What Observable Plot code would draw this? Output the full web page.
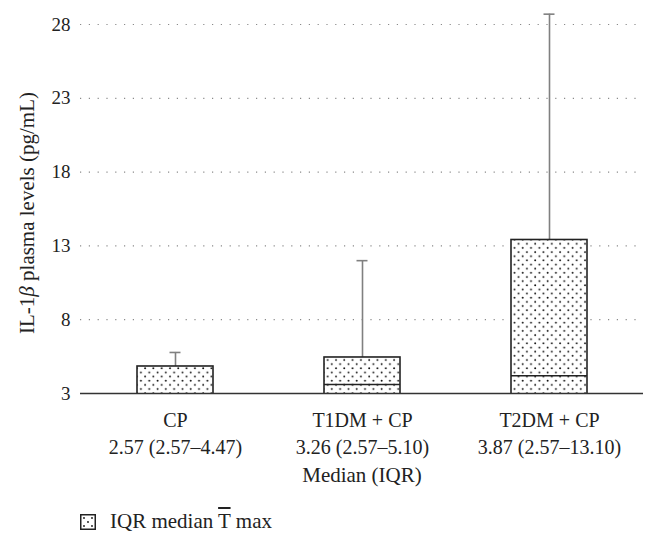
<!DOCTYPE html>
<html>
<head>
<meta charset="utf-8">
<script src="https://cdn.jsdelivr.net/npm/d3@7"></script>
<script src="https://cdn.jsdelivr.net/npm/@observablehq/plot@0.6"></script>
<style>
  html, body { margin: 0; padding: 0; background: #fff; }
  body { width: 657px; height: 543px; overflow: hidden; font-family: "Liberation Serif", serif; }
  #legend { display: flex; align-items: center; height: 43px; padding-left: 80px; font-size: 21px; color: #222; }
  #legend svg { margin-right: 14px; }
</style>
</head>
<body>
<div id="chart"></div>
<div id="legend">
  <svg width="16" height="16">
    <defs>
      <pattern id="dotsL" width="8" height="8" patternUnits="userSpaceOnUse" x="2" y="2">
        <rect width="8" height="8" fill="#fff"/>
        <circle cx="2" cy="2" r="0.9" fill="#111"/>
        <circle cx="6" cy="6" r="0.9" fill="#111"/>
      </pattern>
    </defs>
    <rect x="0.75" y="0.75" width="14.5" height="14.5" fill="url(#dotsL)" stroke="#222" stroke-width="1.5"/>
  </svg>
  <span>IQR median <span style="text-decoration:overline">T</span> max</span>
</div>
<script>
// Data
const groups = ["CP", "T1DM + CP", "T2DM + CP"];
const medianIqrLabels = ["2.57 (2.57–4.47)", "3.26 (2.57–5.10)", "3.87 (2.57–13.10)"];
const boxLow = [2.57, 2.57, 2.57];
const boxHigh = [4.83, 5.44, 13.4];
const medianLine = [2.57, 3.61, 4.2];
const maxValue = [5.78, 12.0, 28.7];
const yTicks = [3, 8, 13, 18, 23, 28];

const data = groups.map((g, i) => ({
  group: g, label: medianIqrLabels[i], low: boxLow[i], high: boxHigh[i],
  median: medianLine[i], max: maxValue[i]
}));
const labelOf = Object.fromEntries(groups.map((g, i) => [g, medianIqrLabels[i]]));

const W = 657, H = 500;
const chart = Plot.plot({
  width: W,
  height: H,
  marginLeft: 80,
  marginRight: 14,
  marginTop: 24,
  marginBottom: 107,
  style: { fontFamily: "Liberation Serif, serif", fontSize: "20px", color: "#222", background: "#fff" },
  x: { domain: groups, paddingInner: 0.595, paddingOuter: 0.2975, label: null },
  y: { domain: [3, 28], ticks: yTicks, label: null },
  marks: [
    Plot.gridY(yTicks.filter(t => t > 3), { stroke: "#8a8a8a", strokeOpacity: 1, strokeWidth: 1.2, strokeDasharray: "1.2,7.6" }),
    Plot.ruleX(data, { x: "group", y1: "high", y2: "max", stroke: "#808080", strokeWidth: 1.6 }),
    Plot.tickY(data, { x: "group", y: "max", stroke: "#808080", strokeWidth: 1.6, insetLeft: 32.5, insetRight: 32.5 }),
    Plot.barY(data, { x: "group", y1: "low", y2: "high", fill: "url(#dots)", stroke: "#222", strokeWidth: 1.6, clip: true }),
    Plot.tickY(data, { x: "group", y: "median", stroke: "#222", strokeWidth: 1.6, clip: true }),
    Plot.ruleY([3], { stroke: "#333", strokeWidth: 1.6 }),
    Plot.axisY({ ticks: yTicks, tickSize: 0, tickPadding: 10, fontSize: 19 }),
    Plot.axisX({ tickSize: 0, tickPadding: 14, fontSize: 20, lineHeight: 1.35,
      tickFormat: d => d + "\n" + labelOf[d] }),
    Plot.text(["Median (IQR)"], { frameAnchor: "bottom", lineAnchor: "middle", dy: 82, fontSize: 21 }),
    Plot.text(["IL-1β plasma levels (pg/mL)"], { frameAnchor: "left", textAnchor: "middle", lineAnchor: "middle", dx: -53, dy: 4, rotate: -90, fontSize: 21 })
  ]
});

// dotted fill pattern
const ns = "http://www.w3.org/2000/svg";
const defs = document.createElementNS(ns, "defs");
defs.innerHTML = `<pattern id="dots" width="8.3" height="8.3" patternUnits="userSpaceOnUse" x="2" y="1">
  <rect width="8.3" height="8.3" fill="#fff"/>
  <circle cx="2" cy="2" r="0.95" fill="#111"/>
  <circle cx="6.15" cy="6.15" r="0.95" fill="#111"/>
</pattern>`;
chart.insertBefore(defs, chart.firstChild);

// italic beta in y label
for (const t of chart.querySelectorAll("text")) {
  if (t.textContent === "IL-1β plasma levels (pg/mL)") {
    t.innerHTML = 'IL-1<tspan font-style="italic">β</tspan> plasma levels (pg/mL)';
  }
}
document.getElementById("chart").appendChild(chart);
</script>
</body>
</html>
